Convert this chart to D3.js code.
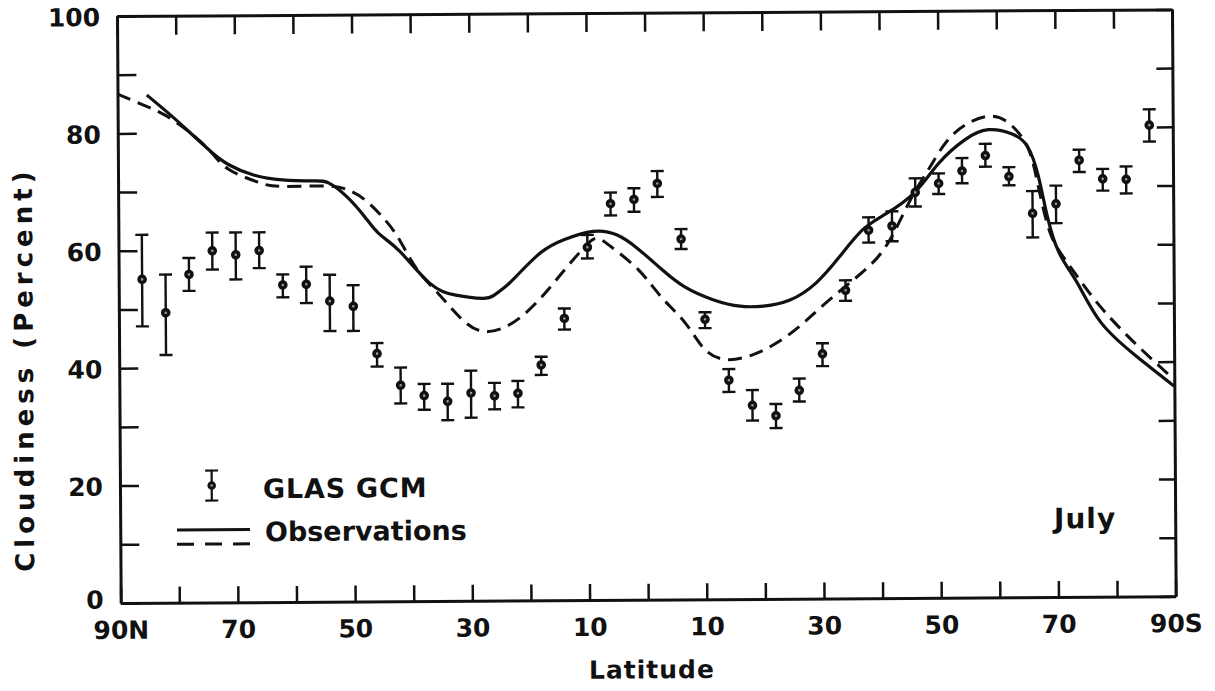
<!DOCTYPE html>
<html><head><meta charset="utf-8">
<script src="https://cdn.jsdelivr.net/npm/d3@7"></script>
<style>
html,body{margin:0;padding:0;background:#fff;}
svg text{font-family:"DejaVu Sans",sans-serif;font-weight:bold;fill:#111;}
</style></head>
<body>
<svg id="chart" width="1215" height="691"></svg>
<script>
// ---- data ----
const gcmLat  = [86,82,78,74,70,66,62,58,54,50,46,42,38,34,30,26,22,18,14,10,6,2,-2,-6,-10,-14,-18,-22,-26,-30,-34,-38,-42,-46,-50,-54,-58,-62,-66,-70,-74,-78,-82,-86];
const gcmMean = [55.1,49.4,55.9,59.9,59.2,59.9,54.0,54.1,51.2,50.3, 42.2,36.8,35.0,34.0,35.4,34.9,35.3,40.1,48.0,60.1, 67.5,68.2,70.9,61.4,47.7,37.3,33.0,31.2,35.5,41.7, 52.5,62.7,63.4,69.1,70.6,72.7,75.3,71.7,65.4,67.0, 74.4,71.2,71.1,80.3];
const gcmHigh = [62.7,55.9,58.7,63.0,63.0,63.0,55.8,57.1,55.7,53.9, 44.0,39.8,37.0,37.0,39.2,37.1,37.4,41.5,49.7,62.2, 69.4,70.1,73.0,63.1,48.9,39.2,35.6,33.2,37.5,43.5, 54.2,64.9,65.9,71.5,72.3,74.9,77.3,73.3,69.2,70.1, 76.2,72.9,73.3,83.0];
const gcmLow  = [47.1,42.2,53.1,56.7,55.0,56.9,51.9,50.9,46.1,46.1, 40.0,33.7,32.6,30.8,31.2,32.6,32.9,38.4,46.1,58.2, 65.5,66.1,68.6,59.7,46.2,35.3,30.4,29.1,33.6,39.6, 50.7,60.6,60.8,66.7,68.8,70.6,73.4,70.2,61.3,63.7, 72.4,69.2,68.7,77.5];

const obsSolidLat = [85,81,77.6,74,71,67,62,56.5,54,51,48,45.5,42,37,32.5,28,26,24,22,18,14,9,5,1.5,-2.5,-6.5,-11.5,-16,-20,-24.5,-29,-33,-37,-41,-46,-50,-54.5,-58.5,-62.5,-65.2,-67,-68.5,-70.5,-73.5,-77.5,-83.5,-90];
const obsSolidVal = [86.5,83.1,80.0,76.7,74.5,72.8,71.9,71.7,71.3,69.0,65.6,62.6,59.6,54.2,52.1,51.5,52.0,53.5,55.4,59.2,61.4,62.8,62.2,59.9,56.4,53.3,51.0,49.9,49.9,50.9,53.8,58.2,62.8,65.5,69.2,74.0,78.0,79.7,79.0,76.8,71.8,64.9,58.6,53.6,46.8,41.0,35.8];

const obsDashLat = [90,86.5,82,77.6,74,71,66,62,54.5,51,48,44.5,42,39,35.5,32,28,23,18.3,14.4,11,8.6,6,1.3,-2.6,-6.7,-10,-14,-18.6,-22.5,-26,-29.3,-33.3,-37.3,-41.3,-45.2,-48.6,-52.7,-58.8,-62.9,-65.4,-67,-69,-72,-77,-83.4,-90];
const obsDashVal = [86.7,85.2,83.1,80.0,76.6,73.7,71.5,70.8,70.8,70.2,68.5,65.0,61.5,56.4,52.4,48.5,45.9,47.2,51.2,55.7,59.6,61.6,60.2,56.2,51.5,47.0,42.5,40.8,41.8,43.8,46.3,49.2,52.6,55.9,60.5,67.9,73.5,79.1,82.0,80.0,76.3,70.0,62.0,56.8,50.0,43.1,36.9];

const xTickVals = [90,80,70,60,50,40,30,20,10,0,-10,-20,-30,-40,-50,-60,-70,-80,-90];
const xTickLabels = {"90":"90N","70":"70","50":"50","30":"30","10":"10","-10":"10","-30":"30","-50":"50","-70":"70","-90":"90S"};
const yTickVals = [0,10,20,30,40,50,60,70,80,90,100];
const yTickLabels = {"0":"0","20":"20","40":"40","60":"60","80":"80","100":"100"};

const xTitle = "Latitude";
const yTitle = "Cloudiness (Percent)";
const legendModel = "GLAS GCM";
const legendObs = "Observations";
const monthLabel = "July";

// ---- layout ----
const W = 1055, H = 587, ox = 120.7, oy = 603, ang = -0.36;
const sa = Math.sin(ang*Math.PI/180);
// convert a page position to rotated-plot local coordinates (layout helper)
function toLocal(sx, sy){
  const yl = sy - (oy - H) + sa*(sx-ox);
  const xl = sx - ox + (H - yl)*(-sa);
  return [xl, yl];
}

const svg = d3.select("#chart");
const g = svg.append("g").attr("transform",`translate(${ox},${oy}) rotate(${ang}) translate(0,${-H})`);

const x = d3.scaleLinear().domain([90,-90]).range([0,W]);
const y = d3.scaleLinear().domain([0,100]).range([H,0]);

const ink = "#111";

// axes
const axB = g.append("g").attr("transform",`translate(0,${H})`)
  .call(d3.axisBottom(x).tickValues(xTickVals).tickSizeInner(-16).tickSizeOuter(0).tickPadding(18)
    .tickFormat(d => xTickLabels[String(d)] || ""));
const axT = g.append("g")
  .call(d3.axisTop(x).tickValues(xTickVals).tickSizeInner(-19).tickSizeOuter(0).tickFormat(""));
const axL = g.append("g")
  .call(d3.axisLeft(y).tickValues(yTickVals).tickSizeInner(-19).tickSizeOuter(0).tickPadding(17)
    .tickFormat(d => yTickLabels[String(d)] || ""));
const axR = g.append("g").attr("transform",`translate(${W},0)`)
  .call(d3.axisRight(y).tickValues(yTickVals).tickSizeInner(-16).tickSizeOuter(0).tickFormat(""));

[axB,axT,axL,axR].forEach(a=>{
  a.select(".domain").attr("stroke",ink).attr("stroke-width",3);
  a.selectAll(".tick line").attr("stroke",ink).attr("stroke-width",2.5);
  a.selectAll(".tick text").attr("font-size",25).attr("fill",ink)
    .style("font-family",'"DejaVu Sans",sans-serif').style("font-weight","bold");
});
axL.selectAll(".tick text").attr("dy","0.38em");
axL.selectAll(".tick").filter(d=>d===0).select("text").attr("dy","0.2em");

// curves
const line = d3.line().x(d=>x(d[0])).y(d=>y(d[1])).curve(d3.curveNatural);
g.append("path").datum(obsSolidLat.map((l,i)=>[l,obsSolidVal[i]]))
  .attr("d",line).attr("fill","none").attr("stroke",ink).attr("stroke-width",3.2);
g.append("path").datum(obsDashLat.map((l,i)=>[l,obsDashVal[i]]))
  .attr("d",line).attr("fill","none").attr("stroke",ink).attr("stroke-width",3)
  .attr("stroke-dasharray","14,8");

// GCM points with error bars
const pts = g.append("g").selectAll("g").data(gcmLat.map((l,i)=>({l,m:gcmMean[i],h:gcmHigh[i],lo:gcmLow[i]})))
  .join("g");
pts.append("line").attr("x1",d=>x(d.l)).attr("x2",d=>x(d.l)).attr("y1",d=>y(d.h)).attr("y2",d=>y(d.lo))
  .attr("stroke",ink).attr("stroke-width",2.4);
pts.append("line").attr("x1",d=>x(d.l)-6.5).attr("x2",d=>x(d.l)+6.5).attr("y1",d=>y(d.h)).attr("y2",d=>y(d.h))
  .attr("stroke",ink).attr("stroke-width",2.4);
pts.append("line").attr("x1",d=>x(d.l)-6.5).attr("x2",d=>x(d.l)+6.5).attr("y1",d=>y(d.lo)).attr("y2",d=>y(d.lo))
  .attr("stroke",ink).attr("stroke-width",2.4);
pts.append("circle").attr("cx",d=>x(d.l)).attr("cy",d=>y(d.m)).attr("r",4.8).attr("fill",ink);
pts.append("circle").attr("cx",d=>x(d.l)).attr("cy",d=>y(d.m)).attr("r",1.3).attr("fill","#999");

// titles
let p = toLocal(652,685);
g.append("text").attr("x",p[0]).attr("y",p[1]).attr("text-anchor","middle").attr("font-size",25)
  .attr("letter-spacing",1).text(xTitle);
p = toLocal(33,368);
g.append("text").attr("transform",`translate(${p[0]},${p[1]}) rotate(-90)`).attr("text-anchor","middle")
  .attr("font-size",26).attr("letter-spacing",5).text(yTitle);

// legend
p = toLocal(211.7,486.7);
const lg = g.append("g").attr("transform",`translate(${p[0]},${p[1]})`);
lg.append("line").attr("x1",0).attr("x2",0).attr("y1",-15).attr("y2",15).attr("stroke",ink).attr("stroke-width",2.2);
lg.append("line").attr("x1",-6.5).attr("x2",6.5).attr("y1",-15).attr("y2",-15).attr("stroke",ink).attr("stroke-width",2.2);
lg.append("line").attr("x1",-6.5).attr("x2",6.5).attr("y1",15).attr("y2",15).attr("stroke",ink).attr("stroke-width",2.2);
lg.append("circle").attr("r",4.3).attr("fill",ink);
lg.append("circle").attr("r",1.3).attr("fill","#999");
p = toLocal(263,500);
g.append("text").attr("x",p[0]).attr("y",p[1]).attr("font-size",27).attr("letter-spacing",0.8).text(legendModel);
let a = toLocal(177,530.7), b = toLocal(250,530.7);
g.append("line").attr("x1",a[0]).attr("x2",b[0]).attr("y1",a[1]).attr("y2",a[1]).attr("stroke",ink).attr("stroke-width",3);
a = toLocal(177,545); b = toLocal(250,545);
g.append("line").attr("x1",a[0]).attr("x2",b[0]).attr("y1",a[1]).attr("y2",a[1]).attr("stroke",ink).attr("stroke-width",3)
  .attr("stroke-dasharray","17,11");
p = toLocal(265,543);
g.append("text").attr("x",p[0]).attr("y",p[1]).attr("font-size",27).text(legendObs);
p = toLocal(1054,540);
g.append("text").attr("x",p[0]).attr("y",p[1]).attr("font-size",28).attr("letter-spacing",1).text(monthLabel);
</script>
</body></html>
